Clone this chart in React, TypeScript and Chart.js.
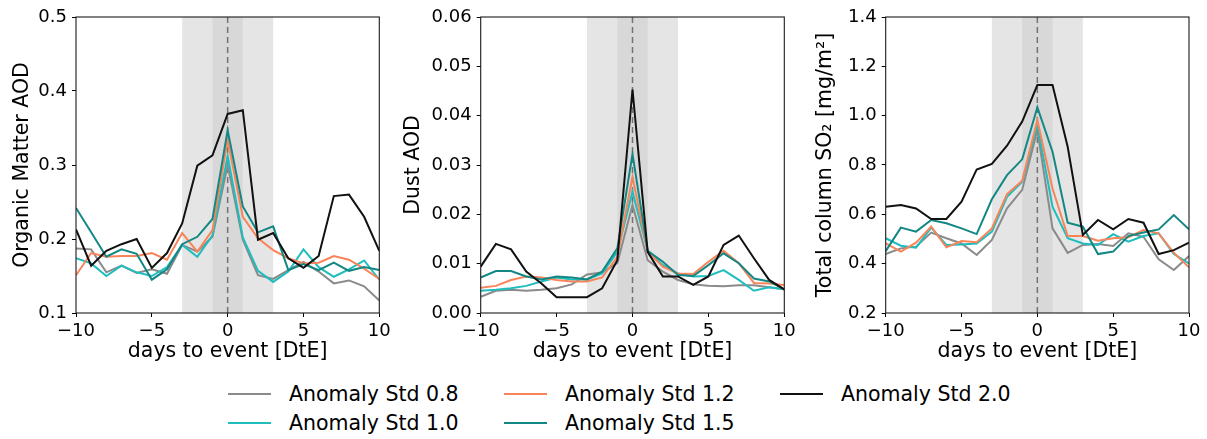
import React, { useEffect, useRef } from "react";
import { Chart, registerables } from "chart.js";

Chart.register(...registerables);

// ---------- data ----------
const days = [-10, -9, -8, -7, -6, -5, -4, -3, -2, -1, 0, 1, 2, 3, 4, 5, 6, 7, 8, 9, 10];

const seriesLabels = ["Anomaly Std 0.8", "Anomaly Std 1.0", "Anomaly Std 1.2", "Anomaly Std 1.5", "Anomaly Std 2.0"];
const seriesColors = ["#8a8a8a", "#1fbdbd", "#f9845a", "#138784", "#111111"];

const om08 = [0.187, 0.186, 0.155, 0.164, 0.154, 0.159, 0.153, 0.192, 0.183, 0.203, 0.300, 0.199, 0.151, 0.146, 0.158, 0.169, 0.156, 0.140, 0.144, 0.136, 0.117];
const om10 = [0.174, 0.167, 0.150, 0.164, 0.155, 0.150, 0.162, 0.192, 0.176, 0.205, 0.312, 0.202, 0.157, 0.142, 0.156, 0.186, 0.162, 0.149, 0.159, 0.171, 0.145];
const om12 = [0.151, 0.181, 0.176, 0.177, 0.177, 0.181, 0.172, 0.208, 0.183, 0.212, 0.334, 0.230, 0.201, 0.185, 0.174, 0.167, 0.168, 0.177, 0.172, 0.160, 0.146];
const om15 = [0.242, 0.209, 0.176, 0.186, 0.180, 0.145, 0.159, 0.193, 0.203, 0.227, 0.347, 0.244, 0.209, 0.217, 0.158, 0.166, 0.158, 0.168, 0.157, 0.162, 0.158];
const om20 = [0.213, 0.164, 0.184, 0.193, 0.200, 0.161, 0.181, 0.221, 0.299, 0.313, 0.369, 0.374, 0.199, 0.208, 0.174, 0.161, 0.177, 0.258, 0.260, 0.230, 0.184];

const dust08 = [0.0033, 0.0045, 0.0047, 0.0045, 0.0047, 0.0050, 0.0058, 0.0078, 0.0082, 0.0101, 0.0219, 0.0107, 0.0084, 0.0067, 0.0058, 0.0055, 0.0054, 0.0056, 0.0056, 0.0052, 0.0048];
const dust10 = [0.0045, 0.0047, 0.0050, 0.0055, 0.0064, 0.0072, 0.0068, 0.0068, 0.0080, 0.0124, 0.0246, 0.0126, 0.0097, 0.0080, 0.0074, 0.0075, 0.0087, 0.0067, 0.0045, 0.0052, 0.0048];
const dust12 = [0.0051, 0.0055, 0.0067, 0.0074, 0.0072, 0.0067, 0.0064, 0.0064, 0.0072, 0.0114, 0.0276, 0.0124, 0.0094, 0.0080, 0.0079, 0.0104, 0.0126, 0.0101, 0.0061, 0.0060, 0.0057];
const dust15 = [0.0072, 0.0085, 0.0085, 0.0074, 0.0068, 0.0074, 0.0072, 0.0068, 0.0084, 0.0131, 0.0322, 0.0126, 0.0104, 0.0077, 0.0075, 0.0097, 0.0121, 0.0101, 0.0070, 0.0064, 0.0048];
const dust20 = [0.0094, 0.0140, 0.0129, 0.0084, 0.0060, 0.0032, 0.0032, 0.0032, 0.0050, 0.0107, 0.0453, 0.0124, 0.0074, 0.0074, 0.0057, 0.0074, 0.0138, 0.0157, 0.0111, 0.0067, 0.0048];

const so208 = [0.439, 0.462, 0.469, 0.526, 0.503, 0.482, 0.435, 0.496, 0.624, 0.699, 0.942, 0.543, 0.444, 0.476, 0.480, 0.472, 0.523, 0.509, 0.418, 0.374, 0.431];
const so210 = [0.503, 0.473, 0.465, 0.546, 0.476, 0.478, 0.482, 0.530, 0.671, 0.732, 0.962, 0.631, 0.503, 0.482, 0.476, 0.520, 0.489, 0.512, 0.523, 0.439, 0.401];
const so212 = [0.482, 0.449, 0.485, 0.550, 0.466, 0.492, 0.487, 0.543, 0.682, 0.736, 0.982, 0.705, 0.512, 0.512, 0.493, 0.503, 0.507, 0.536, 0.523, 0.444, 0.385];
const so215 = [0.451, 0.546, 0.530, 0.577, 0.564, 0.543, 0.520, 0.661, 0.759, 0.823, 1.034, 0.854, 0.566, 0.550, 0.439, 0.449, 0.512, 0.526, 0.539, 0.597, 0.539];
const so220 = [0.631, 0.638, 0.624, 0.581, 0.581, 0.651, 0.782, 0.804, 0.878, 0.976, 1.124, 1.124, 0.874, 0.516, 0.577, 0.539, 0.581, 0.566, 0.439, 0.455, 0.485];

const xTicks = [-10, -5, 0, 5, 10];
const omTicks = [0.1, 0.2, 0.3, 0.4, 0.5];
const dustTicks = [0.0, 0.01, 0.02, 0.03, 0.04, 0.05, 0.06];
const so2Ticks = [0.2, 0.4, 0.6, 0.8, 1.0, 1.2, 1.4];

const outerWindow = [-3, 3];
const innerWindow = [-1, 1];
const eventDay = 0;

const xTitle = "days to event [DtE]";

// ---------- layout/style ----------
const FONT = "'DejaVu Sans', sans-serif";
const TITLE_SIZE = 20.5;
const TICK_SIZE = 18;

type PanelDef = {
  left: number;
  width: number;
  axisW: number;
  titlePad: number;
  padRight: number;
  title: string;
  ticks: number[];
  decimals: number;
  series: number[][];
};

const panels: PanelDef[] = [
  { left: 0, width: 395, axisW: 76, titlePad: 10.7, padRight: 15.7, title: "Organic Matter AOD", ticks: omTicks, decimals: 1, series: [om08, om10, om12, om15, om20] },
  { left: 395, width: 405, axisW: 85.7, titlePad: 6.7, padRight: 15.7, title: "Dust AOD", ticks: dustTicks, decimals: 2, series: [dust08, dust10, dust12, dust15, dust20] },
  { left: 800, width: 407, axisW: 85.7, titlePad: 13.7, padRight: 18, title: "Total column SO\u2082 [mg/m\u00b2]", ticks: so2Ticks, decimals: 1, series: [so208, so210, so212, so215, so220] },
];

const CANVAS_H = 370;

const decorPlugin = {
  id: "decor",
  beforeDatasetsDraw(chart: any) {
    const { ctx, chartArea: a, scales } = chart;
    const x = scales.x;
    ctx.save();
    ctx.beginPath();
    ctx.rect(a.left, a.top, a.right - a.left, a.bottom - a.top);
    ctx.clip();
    const o0 = x.getPixelForValue(outerWindow[0]);
    const o1 = x.getPixelForValue(outerWindow[1]);
    ctx.fillStyle = "rgb(229,229,229)";
    ctx.fillRect(o0, a.top, o1 - o0, a.bottom - a.top);
    const i0 = x.getPixelForValue(innerWindow[0]);
    const i1 = x.getPixelForValue(innerWindow[1]);
    ctx.fillStyle = "rgb(216,216,216)";
    ctx.fillRect(i0, a.top, i1 - i0, a.bottom - a.top);
    const e = x.getPixelForValue(eventDay);
    ctx.strokeStyle = "rgb(115,115,115)";
    ctx.lineWidth = 1.5;
    ctx.setLineDash([6, 4]);
    ctx.beginPath();
    ctx.moveTo(e, a.top);
    ctx.lineTo(e, a.bottom);
    ctx.stroke();
    ctx.restore();
  },
  afterDraw(chart: any) {
    const { ctx, chartArea: a } = chart;
    ctx.save();
    ctx.strokeStyle = "#1a1a1a";
    ctx.lineWidth = 1.1;
    ctx.strokeRect(a.left, a.top, a.right - a.left, a.bottom - a.top);
    ctx.restore();
  },
};

function fmtX(v: number) {
  return v < 0 ? "\u2212" + Math.abs(v) : String(v);
}

function makeChart(canvas: HTMLCanvasElement, p: PanelDef) {
  const datasets = p.series.map((vals, i) => ({
    label: seriesLabels[i],
    data: days.map((d, j) => ({ x: d, y: vals[j] })),
    borderColor: seriesColors[i],
    backgroundColor: seriesColors[i],
    borderWidth: 2,
    pointRadius: 0,
    tension: 0,
    fill: false,
    order: seriesLabels.length - i,
  }));
  const yMin = p.ticks[0];
  const yMax = p.ticks[p.ticks.length - 1];
  return new Chart(canvas, {
    type: "line",
    data: { datasets },
    plugins: [decorPlugin],
    options: {
      animation: false,
      responsive: false,
      maintainAspectRatio: false,
      layout: { padding: { top: 17, right: p.padRight, left: 0, bottom: 0 } },
      plugins: { legend: { display: false }, tooltip: { enabled: false } },
      scales: {
        x: {
          type: "linear",
          min: xTicks[0],
          max: xTicks[xTicks.length - 1],
          afterBuildTicks: (s: any) => {
            s.ticks = xTicks.map((v) => ({ value: v }));
          },
          afterFit: (s: any) => {
            s.height = 57;
          },
          border: { display: false },
          grid: { drawOnChartArea: false, drawTicks: true, tickLength: 4, color: "#000", lineWidth: 1 },
          ticks: {
            padding: 4,
            color: "#000",
            font: { family: FONT, size: TICK_SIZE },
            maxRotation: 0,
            callback: (v: any) => fmtX(Number(v)),
          },
          title: {
            display: true,
            text: xTitle,
            color: "#000",
            font: { family: FONT, size: TITLE_SIZE },
            padding: { top: 0, bottom: 6.2 },
          },
        },
        y: {
          type: "linear",
          min: yMin,
          max: yMax,
          afterBuildTicks: (s: any) => {
            s.ticks = p.ticks.map((v) => ({ value: v }));
          },
          afterFit: (s: any) => {
            s.width = p.axisW;
          },
          border: { display: false },
          grid: { drawOnChartArea: false, drawTicks: true, tickLength: 4, color: "#000", lineWidth: 1 },
          ticks: {
            padding: 5,
            color: "#000",
            font: { family: FONT, size: TICK_SIZE },
            callback: (v: any) => Number(v).toFixed(p.decimals),
          },
          title: {
            display: true,
            text: p.title,
            color: "#000",
            font: { family: FONT, size: TITLE_SIZE },
            padding: { top: p.titlePad, bottom: 0 },
          },
        },
      },
    } as any,
  });
}

const legendCols = [
  { x: 228, items: [0, 1] },
  { x: 504, items: [2, 3] },
  { x: 780, items: [4] },
];
const legendRowsY = [394, 423];

export default function App() {
  const refs = [useRef<HTMLCanvasElement>(null), useRef<HTMLCanvasElement>(null), useRef<HTMLCanvasElement>(null)];

  useEffect(() => {
    const charts = panels.map((p, i) => makeChart(refs[i].current as HTMLCanvasElement, p));
    return () => charts.forEach((c) => c.destroy());
  }, []);

  return (
    <div style={{ position: "absolute", left: 0, top: 0, width: 1207, height: 439, background: "#fff", overflow: "hidden", fontFamily: FONT }}>
      {panels.map((p, i) => (
        <canvas
          key={i}
          ref={refs[i]}
          width={p.width}
          height={CANVAS_H}
          style={{ position: "absolute", left: p.left, top: 0, width: p.width, height: CANVAS_H }}
        />
      ))}
      {legendCols.map((col, ci) =>
        col.items.map((si, ri) => (
          <div
            key={ci + "-" + ri}
            style={{
              position: "absolute",
              left: col.x,
              top: legendRowsY[ri] - 12,
              height: 24,
              lineHeight: "24px",
              display: "flex",
              alignItems: "center",
              fontSize: TITLE_SIZE,
              color: "#000",
              whiteSpace: "nowrap",
            }}
          >
            <span style={{ display: "inline-block", width: 43, height: 2, background: seriesColors[si], marginRight: 18 }} />
            <span>{seriesLabels[si]}</span>
          </div>
        ))
      )}
    </div>
  );
}
